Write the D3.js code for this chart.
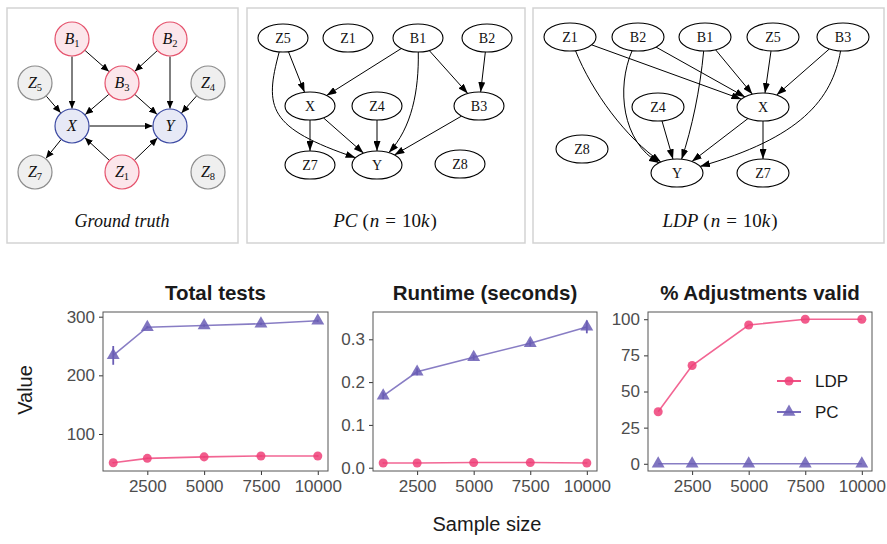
<!DOCTYPE html>
<html>
<head>
<meta charset="utf-8">
<script src="https://cdn.jsdelivr.net/npm/d3@7"></script>
<style>
  body { margin: 0; background: #fff; }
  svg { display: block; }
</style>
</head>
<body>
<script>

// ---- data -----------------------------------------------------------

var sampleSizes = [1000, 2500, 5000, 7500, 10000];
var xTicks      = [2500, 5000, 7500, 10000];

var testsLDP     = [51, 58.5, 61, 62.5, 62.5];
var testsLDPErr  = [1, 1, 1, 1, 1];
var testsPC      = [234, 282, 285, 288, 293];
var testsPCErr   = [16, 2, 2, 2, 2];

var runtimeLDP    = [0.011, 0.011, 0.012, 0.012, 0.011];
var runtimeLDPErr = [0.001, 0.001, 0.001, 0.001, 0.001];
var runtimePC     = [0.168, 0.224, 0.258, 0.291, 0.329];
var runtimePCErr  = [0.008, 0.008, 0.006, 0.007, 0.015];

var validLDP    = [36, 68, 96, 100, 100];
var validLDPErr = [0, 0, 0, 0, 0];
var validPC     = [0, 0, 0, 0, 0];
var validPCErr  = [0, 0, 0, 0, 0];

var testsTicks   = [100, 200, 300];
var runtimeTicks = [0, 0.1, 0.2, 0.3];
var validTicks   = [0, 25, 50, 75, 100];

var methods = ["LDP", "PC"];

// graphs
var truthRoles = {
    B1: "conf", B2: "conf", B3: "conf", Z1: "conf",
    X: "treat", Y: "treat",
    Z4: "other", Z5: "other", Z7: "other", Z8: "other"
};
var truthEdges = [
    ["B1","X"], ["B1","B3"], ["B2","B3"], ["B2","Y"], ["B3","X"], ["B3","Y"],
    ["Z5","X"], ["Z4","Y"], ["X","Y"], ["X","Z7"], ["Z1","X"], ["Z1","Y"]
];
var pcEdges = [
    ["Z5","X"], ["Z5","Y"], ["B1","X"], ["B1","Y"], ["B1","B3"], ["B2","B3"],
    ["X","Z7"], ["X","Y"], ["Z4","Y"], ["B3","Y"]
];
var ldpEdges = [
    ["Z1","X"], ["Z1","Y"], ["B2","X"], ["B2","Y"], ["B1","X"], ["B1","Y"],
    ["Z5","X"], ["B3","X"], ["B3","Y"], ["Z4","Y"], ["X","Y"], ["X","Z7"]
];

// ---- layout ---------------------------------------------------------

var truthPos = {
    B1: [72, 39],  B2: [170, 39],
    Z5: [35, 83],  B3: [122, 83],  Z4: [208, 83],
    X:  [72, 126], Y:  [170, 126],
    Z7: [35, 172], Z1: [122, 172], Z8: [208, 172]
};
var pcPos = {
    Z5: [283, 38],  Z1: [348, 38], B1: [418, 38], B2: [487, 38],
    X:  [310, 106], Z4: [377, 106], B3: [479, 106],
    Z7: [310, 165], Y:  [377, 165], Z8: [460, 164]
};
var ldpPos = {
    Z1: [570, 37], B2: [638, 37], B1: [705, 37], Z5: [773, 37], B3: [843, 37],
    Z4: [658, 107], X: [763, 107],
    Z8: [582, 149], Y: [677, 173], Z7: [763, 173]
};
// control points for the bent edges drawn by graphviz
var pcBends = {
    "Z5-Y": [[264, 108], [268, 128]],
    "B1-Y": [[419, 90], [412, 128]]
};
var ldpBends = {
    "Z1-Y": [[592, 92], [626, 138]],
    "B2-Y": [[616, 88], [622, 142]],
    "B1-Y": [[700, 90], [692, 128]],
    "B3-Y": [[832, 100], [800, 138]]
};

var roleStyle = {
    conf:  { fill: "#fce6eb", stroke: "#e5526c" },
    treat: { fill: "#e7e9f6", stroke: "#3c4aa3" },
    other: { fill: "#efefef", stroke: "#8c8c8c" }
};

var colors = { LDP: "#ef3f78", PC: "#6a5db5" };

var svg = d3.select("body").append("svg")
    .attr("width", 887)
    .attr("height", 544);

var defs = svg.append("defs");

function addArrow (id, len, wid) {
    defs.append("marker")
        .attr("id", id)
        .attr("markerUnits", "userSpaceOnUse")
        .attr("markerWidth", len)
        .attr("markerHeight", wid)
        .attr("refX", len)
        .attr("refY", wid / 2)
        .attr("orient", "auto")
        .append("path")
        .attr("d", "M0,0 L" + len + "," + (wid / 2) + " L0," + wid + " Z")
        .attr("fill", "#000");
}
addArrow("arrowSmall", 8, 7);
addArrow("arrowGv", 10, 7);

// panel frames
[[7, 8, 231, 235], [247, 8, 278, 235], [533, 8, 351, 235]].forEach(function (b) {
    svg.append("rect")
        .attr("x", b[0]).attr("y", b[1])
        .attr("width", b[2]).attr("height", b[3])
        .attr("fill", "none")
        .attr("stroke", "#d3d3d3")
        .attr("stroke-width", 1.5);
});

function boundary (c, rx, ry, toward) {
    var dx = toward[0] - c[0], dy = toward[1] - c[1];
    var t = 1 / Math.sqrt((dx / rx) * (dx / rx) + (dy / ry) * (dy / ry));
    return [c[0] + dx * t, c[1] + dy * t];
}

function drawEdges (g, edges, pos, rx, ry, bends, marker) {
    g.selectAll("path.edge")
        .data(edges)
        .enter()
        .append("path")
        .attr("class", "edge")
        .attr("fill", "none")
        .attr("stroke", "#000")
        .attr("stroke-width", 1)
        .attr("marker-end", "url(#" + marker + ")")
        .attr("d", function (e) {
            var s = pos[e[0]], t = pos[e[1]];
            var b = bends && bends[e[0] + "-" + e[1]];
            if (b) {
                var p0 = boundary(s, rx, ry, b[0]);
                var p1 = boundary(t, rx, ry, b[1]);
                return "M" + p0 + "C" + b[0] + " " + b[1] + " " + p1;
            }
            return "M" + boundary(s, rx, ry, t) + "L" + boundary(t, rx, ry, s);
        });
}

// ---- ground truth ---------------------------------------------------

var gTruth = svg.append("g");
drawEdges(gTruth, truthEdges, truthPos, 17.5, 17.5, null, "arrowSmall");

var tn = gTruth.selectAll("g.node")
    .data(Object.keys(truthPos))
    .enter()
    .append("g")
    .attr("transform", function (d) { return "translate(" + truthPos[d] + ")"; });

tn.append("circle")
    .attr("r", 17)
    .attr("fill", function (d) { return roleStyle[truthRoles[d]].fill; })
    .attr("stroke", function (d) { return roleStyle[truthRoles[d]].stroke; })
    .attr("stroke-width", 1.2);

var tl = tn.append("text")
    .attr("text-anchor", "middle")
    .attr("y", 5)
    .attr("font-family", "'Liberation Serif', serif")
    .attr("font-size", 16)
    .attr("fill", "#111");
tl.append("tspan")
    .attr("font-style", "italic")
    .text(function (d) { return d.charAt(0); });
tl.append("tspan")
    .attr("font-size", 10.5)
    .attr("dy", 3)
    .text(function (d) { return d.slice(1); });

gTruth.append("text")
    .attr("x", 122).attr("y", 227)
    .attr("text-anchor", "middle")
    .attr("font-family", "'Liberation Serif', serif")
    .attr("font-style", "italic")
    .attr("font-size", 18)
    .attr("fill", "#111")
    .text("Ground truth");

// ---- estimated graphs -----------------------------------------------

function drawGv (pos, edges, bends, rx, ry) {
    var g = svg.append("g");
    drawEdges(g, edges, pos, rx, ry, bends, "arrowGv");
    var n = g.selectAll("g.node")
        .data(Object.keys(pos))
        .enter()
        .append("g")
        .attr("transform", function (d) { return "translate(" + pos[d] + ")"; });
    n.append("ellipse")
        .attr("rx", rx).attr("ry", ry)
        .attr("fill", "#fff")
        .attr("stroke", "#000")
        .attr("stroke-width", 1.1);
    n.append("text")
        .attr("text-anchor", "middle")
        .attr("y", 5)
        .attr("font-family", "'Liberation Serif', serif")
        .attr("font-size", 14)
        .attr("fill", "#111")
        .text(function (d) { return d; });
    return g;
}

function mathLabel (x, y, name) {
    var t = svg.append("text")
        .attr("x", x).attr("y", y)
        .attr("text-anchor", "middle")
        .attr("font-family", "'Liberation Serif', serif")
        .attr("font-size", 19)
        .attr("fill", "#111");
    [[name, true, 0], ["(", false, 5], ["n", true, 1], ["=", false, 6],
     ["10", false, 6], ["k", true, 0], [")", false, 1]]
        .forEach(function (p) {
            t.append("tspan")
                .attr("dx", p[2])
                .attr("font-style", p[1] ? "italic" : "normal")
                .text(p[0]);
        });
}

drawGv(pcPos, pcEdges, pcBends, 25, 14);
drawGv(ldpPos, ldpEdges, ldpBends, 26, 14);
mathLabel(385, 227, "PC");
mathLabel(720, 227, "LDP");

// ---- line charts ----------------------------------------------------

var font = "'Liberation Sans', Arial, sans-serif";
var plotTop = 312, plotBottom = 471;

function drawChart (cfg) {

    var g = svg.append("g");

    var x = d3.scaleLinear().domain([550, 10450]).range([cfg.left, cfg.right]);
    var y = d3.scaleLinear().domain(cfg.domain).range([plotBottom, plotTop]);

    var ax = g.append("g")
        .attr("transform", "translate(0," + plotBottom + ")")
        .call(d3.axisBottom(x).tickValues(xTicks).tickSize(4).tickPadding(5)
            .tickFormat(d3.format("d")));
    var ay = g.append("g")
        .attr("transform", "translate(" + cfg.left + ",0)")
        .call(d3.axisLeft(y).tickValues(cfg.ticks).tickSize(4).tickPadding(4)
            .tickFormat(cfg.format));

    [ax, ay].forEach(function (a) {
        a.select(".domain").remove();
        a.selectAll("line").attr("stroke", "#333");
        a.selectAll("text")
            .attr("fill", "#4d4d4d")
            .attr("font-family", font)
            .attr("font-size", 17);
    });

    g.append("rect")
        .attr("x", cfg.left).attr("y", plotTop)
        .attr("width", cfg.right - cfg.left)
        .attr("height", plotBottom - plotTop)
        .attr("fill", "none")
        .attr("stroke", "#555")
        .attr("stroke-width", 1);

    cfg.series.forEach(function (s) {
        var pts = sampleSizes.map(function (n, i) {
            return { n: n, v: s.values[i], e: s.err[i] };
        });
        var c = colors[s.name];

        g.append("path")
            .datum(pts)
            .attr("fill", "none")
            .attr("stroke", c)
            .attr("stroke-opacity", 0.8)
            .attr("stroke-width", 1.6)
            .attr("d", d3.line().x(function (d) { return x(d.n); }).y(function (d) { return y(d.v); }));

        g.selectAll(null)
            .data(pts)
            .enter()
            .append("line")
            .attr("x1", function (d) { return x(d.n); })
            .attr("x2", function (d) { return x(d.n); })
            .attr("y1", function (d) { return y(d.v - d.e); })
            .attr("y2", function (d) { return y(d.v + d.e); })
            .attr("stroke", c)
            .attr("stroke-width", 1.8);

        g.selectAll(null)
            .data(pts)
            .enter()
            .append("path")
            .attr("transform", function (d) { return "translate(" + x(d.n) + "," + y(d.v) + ")"; })
            .attr("d", d3.symbol(s.name === "LDP" ? d3.symbolCircle : d3.symbolTriangle,
                                 s.name === "LDP" ? 64 : 72)())
            .attr("fill", c)
            .attr("fill-opacity", 0.85);
    });

    g.append("text")
        .attr("x", (cfg.left + cfg.right) / 2)
        .attr("y", 300)
        .attr("text-anchor", "middle")
        .attr("font-family", font)
        .attr("font-weight", "bold")
        .attr("font-size", 20.5)
        .attr("fill", "#1a1a1a")
        .text(cfg.title);

    return g;
}

drawChart({
    title: "Total tests", left: 103, right: 328,
    domain: [36.9, 308], ticks: testsTicks, format: d3.format("d"),
    series: [
        { name: "LDP", values: testsLDP, err: testsLDPErr },
        { name: "PC",  values: testsPC,  err: testsPCErr }
    ]
});

drawChart({
    title: "Runtime (seconds)", left: 373, right: 597,
    domain: [-0.0077, 0.3638], ticks: runtimeTicks, format: d3.format(".1f"),
    series: [
        { name: "LDP", values: runtimeLDP, err: runtimeLDPErr },
        { name: "PC",  values: runtimePC,  err: runtimePCErr }
    ]
});

drawChart({
    title: "% Adjustments valid", left: 648, right: 872,
    domain: [-5, 105], ticks: validTicks, format: d3.format("d"),
    series: [
        { name: "LDP", values: validLDP, err: validLDPErr },
        { name: "PC",  values: validPC,  err: validPCErr }
    ]
});

// legend
var leg = svg.append("g")
    .selectAll("g")
    .data(methods)
    .enter()
    .append("g")
    .attr("transform", function (d, i) { return "translate(777," + (381 + i * 31) + ")"; });

leg.append("line")
    .attr("x1", 0).attr("x2", 24)
    .attr("stroke", function (d) { return colors[d]; })
    .attr("stroke-width", 1.8);
leg.append("path")
    .attr("transform", "translate(12,0)")
    .attr("d", function (d) {
        return d3.symbol(d === "LDP" ? d3.symbolCircle : d3.symbolTriangle, d === "LDP" ? 64 : 72)();
    })
    .attr("fill", function (d) { return colors[d]; })
    .attr("fill-opacity", 0.85);
leg.append("text")
    .attr("x", 38).attr("y", 6)
    .attr("font-family", font)
    .attr("font-size", 17)
    .attr("fill", "#1a1a1a")
    .text(function (d) { return d; });

// axis titles
svg.append("text")
    .attr("transform", "translate(32,390) rotate(-90)")
    .attr("text-anchor", "middle")
    .attr("font-family", font)
    .attr("font-size", 20)
    .attr("fill", "#1a1a1a")
    .text("Value");

svg.append("text")
    .attr("x", 487).attr("y", 531)
    .attr("text-anchor", "middle")
    .attr("font-family", font)
    .attr("font-size", 20)
    .attr("fill", "#1a1a1a")
    .text("Sample size");

</script>
</body>
</html>
